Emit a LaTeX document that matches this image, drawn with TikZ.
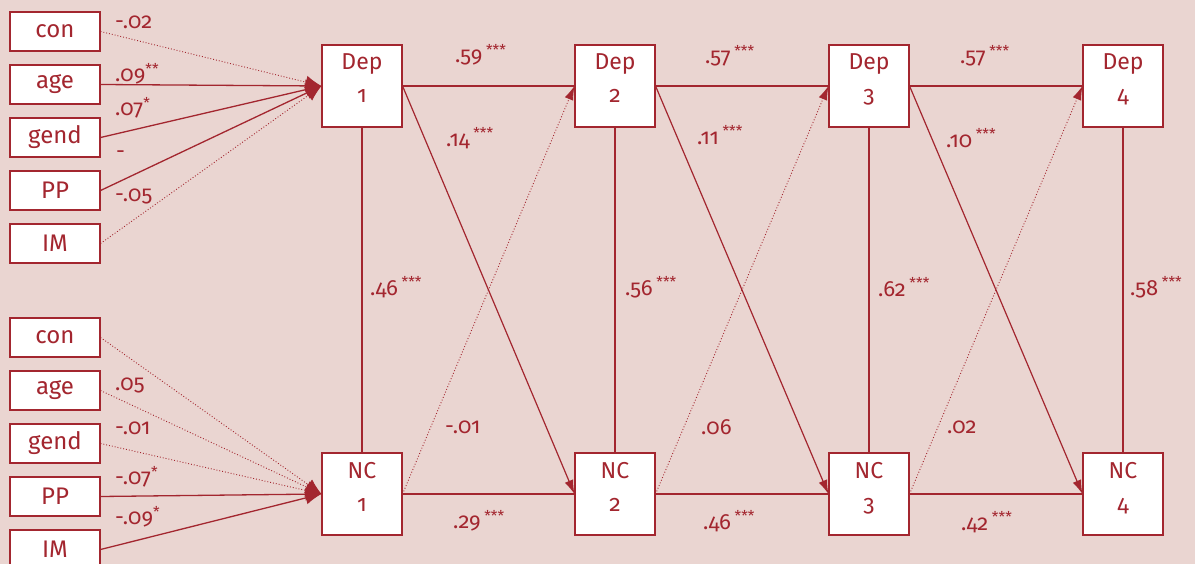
\documentclass[tikz,border=0pt]{standalone}
\usepackage{fontspec}
\setmainfont{Fira Sans}[Numbers=OldStyle]
\usetikzlibrary{arrows.meta}
\definecolor{bordo}{HTML}{A3262F}
\definecolor{rosa}{HTML}{EAD5D1}
\newcommand{\sig}[1]{\textsuperscript{\fontsize{15}{15}\selectfont#1}}
\newcommand{\sigs}[1]{\,\textsuperscript{\fontsize{15}{15}\selectfont#1}}
\tikzset{
  varbox/.style={draw=bordo, fill=white, line width=1.1pt, minimum width=90pt,
    minimum height=39pt, inner sep=0pt, font=\fontsize{24}{26}\selectfont},
  wavebox/.style={draw=bordo, fill=white, line width=1.1pt, minimum width=80pt,
    minimum height=82pt, inner sep=0pt, align=center, font=\fontsize{23}{33}\selectfont},
  coef/.style={anchor=west, inner sep=0pt, font=\fontsize{22}{24}\selectfont},
  solidarr/.style={line width=1.3pt, -{Latex[length=16pt,width=13pt]}},
  dotarr/.style={line width=0.9pt, dotted, -{Latex[length=16pt,width=13pt]}},
  crossarr/.style={line width=1.2pt, -{Latex[length=14pt,width=9pt]}},
  crossdot/.style={line width=0.9pt, dotted, -{Latex[length=14pt,width=9pt]}},
  link/.style={line width=1.2pt}
}
\begin{document}
\begin{tikzpicture}[x=1pt, y=-1pt, color=bordo]
    \useasboundingbox (0,0) rectangle (1195,564);
    \fill[rosa] (0,0) rectangle (1195,564);

    % Kovariaten Dep
    \node[varbox] (conA)  at (55,31.5)  {con};
    \node[varbox] (ageA)  at (55,84.5)  {age};
    \node[varbox] (gendA) at (55,137.5) {gend};
    \node[varbox] (ppA)   at (55,190.5) {PP};
    \node[varbox] (imA)   at (55,243.5) {IM};

    % Kovariaten NC
    \node[varbox] (conB)  at (55,337.5) {con};
    \node[varbox] (ageB)  at (55,390.5) {age};
    \node[varbox] (gendB) at (55,443.5) {gend};
    \node[varbox] (ppB)   at (55,496.5) {PP};
    \node[varbox] (imB)   at (55,549.5) {IM};

    % Messzeitpunkte
    \node[wavebox] (dep1) at (362,86)  {Dep\\1\\[-18pt]\mbox{}};
    \node[wavebox] (dep2) at (615,86)  {Dep\\2\\[-18pt]\mbox{}};
    \node[wavebox] (dep3) at (869,86)  {Dep\\3\\[-18pt]\mbox{}};
    \node[wavebox] (dep4) at (1123,86) {Dep\\4\\[-18pt]\mbox{}};
    \node[wavebox] (nc1)  at (362,494)  {NC\\1\\[-18pt]\mbox{}};
    \node[wavebox] (nc2)  at (615,494)  {NC\\2\\[-18pt]\mbox{}};
    \node[wavebox] (nc3)  at (869,494)  {NC\\3\\[-18pt]\mbox{}};
    \node[wavebox] (nc4)  at (1123,494) {NC\\4\\[-18pt]\mbox{}};

    % Pfade Kovariaten -> Dep 1
    \draw[dotarr]   (conA.east)  -- (dep1.west);
    \draw[solidarr] (ageA.east)  -- (dep1.west);
    \draw[solidarr] (gendA.east) -- (dep1.west);
    \draw[solidarr] (ppA.east)   -- (dep1.west);
    \draw[dotarr]   (imA.east)   -- (dep1.west);
    \node[coef] (cA1) at (115,22)  {-.02};
    \node[coef] (cA2) at (115,74)  {.09\sig{**}};
    \node[coef] (cA3) at (115,108) {.07\sig{*}};
    \node[coef] (cA4) at (116,155) {-};
    \node[coef] (cA5) at (115,196) {-.05};

    % Pfade Kovariaten -> NC 1
    \draw[dotarr]   (conB.east)  -- (nc1.west);
    \draw[dotarr]   (ageB.east)  -- (nc1.west);
    \draw[dotarr]   (gendB.east) -- (nc1.west);
    \draw[solidarr] (ppB.east)   -- (nc1.west);
    \draw[solidarr] (imB.east)   -- (nc1.west);
    \node[coef] (cB2) at (115,385) {.05};
    \node[coef] (cB3) at (115,428) {-.01};
    \node[coef] (cB4) at (115,477) {-.07\sig{*}};
    \node[coef] (cB5) at (115,517) {-.09\sig{*}};

    % Stabilitaeten
    \draw[link] (dep1.east) -- (dep2.west);
    \draw[link] (dep2.east) -- (dep3.west);
    \draw[link] (dep3.east) -- (dep4.west);
    \draw[link] (nc1.east) -- (nc2.west);
    \draw[link] (nc2.east) -- (nc3.west);
    \draw[link] (nc3.east) -- (nc4.west);
    \node[coef] (s1) at (455,55)  {.59\sigs{***}};
    \node[coef] (s2) at (705,56)  {.57\sigs{***}};
    \node[coef] (s3) at (960,56)  {.57\sigs{***}};
    \node[coef] (s4) at (453,521) {.29\sigs{***}};
    \node[coef] (s5) at (703,521) {.46\sigs{***}};
    \node[coef] (s6) at (961,522) {.42\sigs{***}};

    % Korrelationen
    \draw[link] (dep1.south) -- (nc1.north);
    \draw[link] (dep2.south) -- (nc2.north);
    \draw[link] (dep3.south) -- (nc3.north);
    \draw[link] (dep4.south) -- (nc4.north);
    \node[coef] (r1) at (370,287)  {.46\sigs{***}};
    \node[coef] (r2) at (625,287)  {.56\sigs{***}};
    \node[coef] (r3) at (878,287)  {.62\sigs{***}};
    \node[coef] (r4) at (1130,287) {.58\sigs{***}};

    % Kreuzpfade
    \draw[crossarr] (dep1.east) -- (nc2.west);
    \draw[crossarr] (dep2.east) -- (nc3.west);
    \draw[crossarr] (dep3.east) -- (nc4.west);
    \draw[crossdot] (nc1.east) -- (dep2.west);
    \draw[crossdot] (nc2.east) -- (dep3.west);
    \draw[crossdot] (nc3.east) -- (dep4.west);
    \node[coef] (x1) at (446,138) {.14\sigs{***}};
    \node[coef] (x2) at (697,135) {.11\sigs{***}};
    \node[coef] (x3) at (946,138) {.10\sigs{***}};
    \node[coef] (y1) at (445,427) {-.01};
    \node[coef] (y2) at (701,427) {.06};
    \node[coef] (y3) at (947,427) {.02};
\end{tikzpicture}
\end{document}
